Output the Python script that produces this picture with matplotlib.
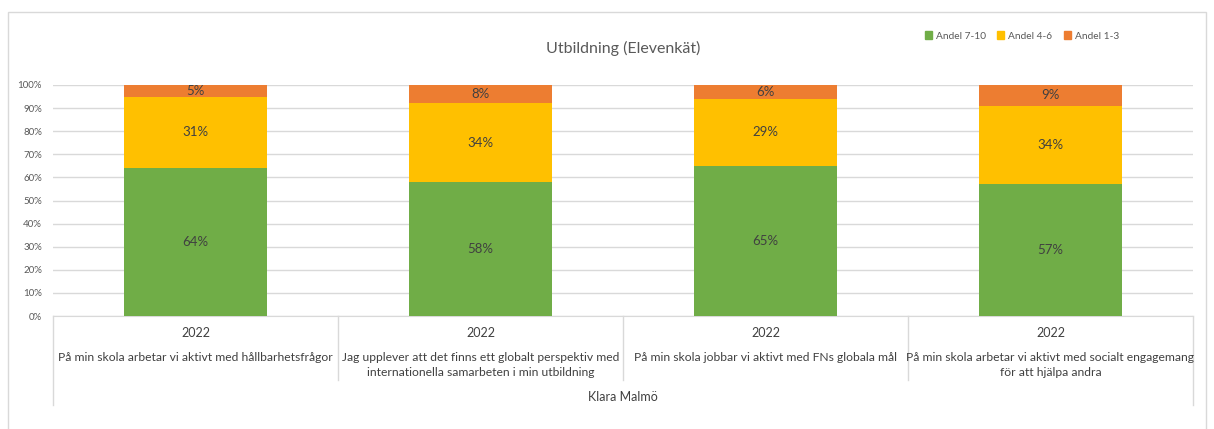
import matplotlib
matplotlib.use("Agg")
import matplotlib.pyplot as plt
from matplotlib.lines import Line2D
from matplotlib.patches import Rectangle

plt.rcParams['font.family'] = ['Lato', 'DejaVu Sans']

title = "Utbildning (Elevenkät)"
group_label = "Klara Malmö"
years = ["2022", "2022", "2022", "2022"]
categories = [
    "På min skola arbetar vi aktivt med hållbarhetsfrågor",
    "Jag upplever att det finns ett globalt perspektiv med\ninternationella samarbeten i min utbildning",
    "På min skola jobbar vi aktivt med FNs globala mål",
    "På min skola arbetar vi aktivt med socialt engagemang\nför att hjälpa andra",
]
series_names = ["Andel 7-10", "Andel 4-6", "Andel 1-3"]
andel_7_10 = [64, 58, 65, 57]
andel_4_6 = [31, 34, 29, 34]
andel_1_3 = [5, 8, 6, 9]
colors = ["#70AD47", "#FFC000", "#ED7D31"]
yticks = [0, 10, 20, 30, 40, 50, 60, 70, 80, 90, 100]

W, H = 1214, 429
fig = plt.figure(figsize=(W / 100, H / 100), dpi=100)

def fx(px):
    return px / W

def fy(py):
    return 1 - py / H

# outer chart border (left & top visible)
fig.add_artist(Rectangle((fx(8), fy(440)), fx(1206 - 8), fy(12) - fy(440),
                         transform=fig.transFigure, fill=False,
                         edgecolor="#D9D9D9", linewidth=1.0))

ax_l, ax_r, ax_t, ax_b = 53, 1193, 85, 316
ax = fig.add_axes([fx(ax_l), fy(ax_b), fx(ax_r - ax_l), fy(ax_t) - fy(ax_b)])

n = len(categories)
x = list(range(n))
data = [andel_7_10, andel_4_6, andel_1_3]
bottom = [0] * n
for vals, col, name in zip(data, colors, series_names):
    ax.bar(x, vals, width=0.5, bottom=bottom, color=col, label=name, zorder=3)
    for xi, b, v in zip(x, bottom, vals):
        ax.text(xi, b + v / 2, f"{v}%", ha="center", va="center",
                fontsize=9.5, color="#404040", zorder=4)
    bottom = [b + v for b, v in zip(bottom, vals)]

ax.set_xlim(-0.5, n - 0.5)
ax.set_ylim(0, 100)
ax.set_yticks(yticks)
ax.set_yticklabels([f"{t}%" for t in yticks], fontsize=7, color="#595959")
ax.yaxis.grid(True, color="#D9D9D9", linewidth=1.0, zorder=0)
ax.set_axisbelow(True)
ax.tick_params(axis="y", length=0, pad=8)
ax.tick_params(axis="x", length=0, labelbottom=False)
for s in ["top", "right", "left"]:
    ax.spines[s].set_visible(False)
ax.spines["bottom"].set_color("#D9D9D9")

# category table below the axis
line_col = "#D9D9D9"
sep_x = [ax_l + i * (ax_r - ax_l) / n for i in range(n + 1)]
for i, sx in enumerate(sep_x):
    end = 405 if i in (0, n) else 380
    fig.add_artist(Line2D([fx(sx), fx(sx)], [fy(316), fy(end)],
                          transform=fig.transFigure, color=line_col, linewidth=1.0))

for i in range(n):
    cx = (sep_x[i] + sep_x[i + 1]) / 2
    fig.text(fx(cx), fy(333), years[i], ha="center", va="center",
             fontsize=9, color="#404040")
    fig.text(fx(cx), fy(352), categories[i], ha="center", va="top",
             fontsize=8.7, color="#404040", linespacing=1.45)

fig.text(fx((ax_l + ax_r) / 2), fy(397), group_label, ha="center", va="center",
         fontsize=9, color="#404040")

fig.text(fx(623), fy(48), title, ha="center", va="center", fontsize=11.5, color="#595959")

handles = [Rectangle((0, 0), 1, 1, color=c) for c in colors]
fig.legend(handles, series_names, loc="center", bbox_to_anchor=(fx(1022), fy(36)),
           ncol=3, frameon=False, fontsize=7.3, labelcolor="#595959",
           handlelength=0.7, handleheight=0.7, handletextpad=0.4, columnspacing=1.1)

fig.savefig("out.png", dpi=100, facecolor="white")
